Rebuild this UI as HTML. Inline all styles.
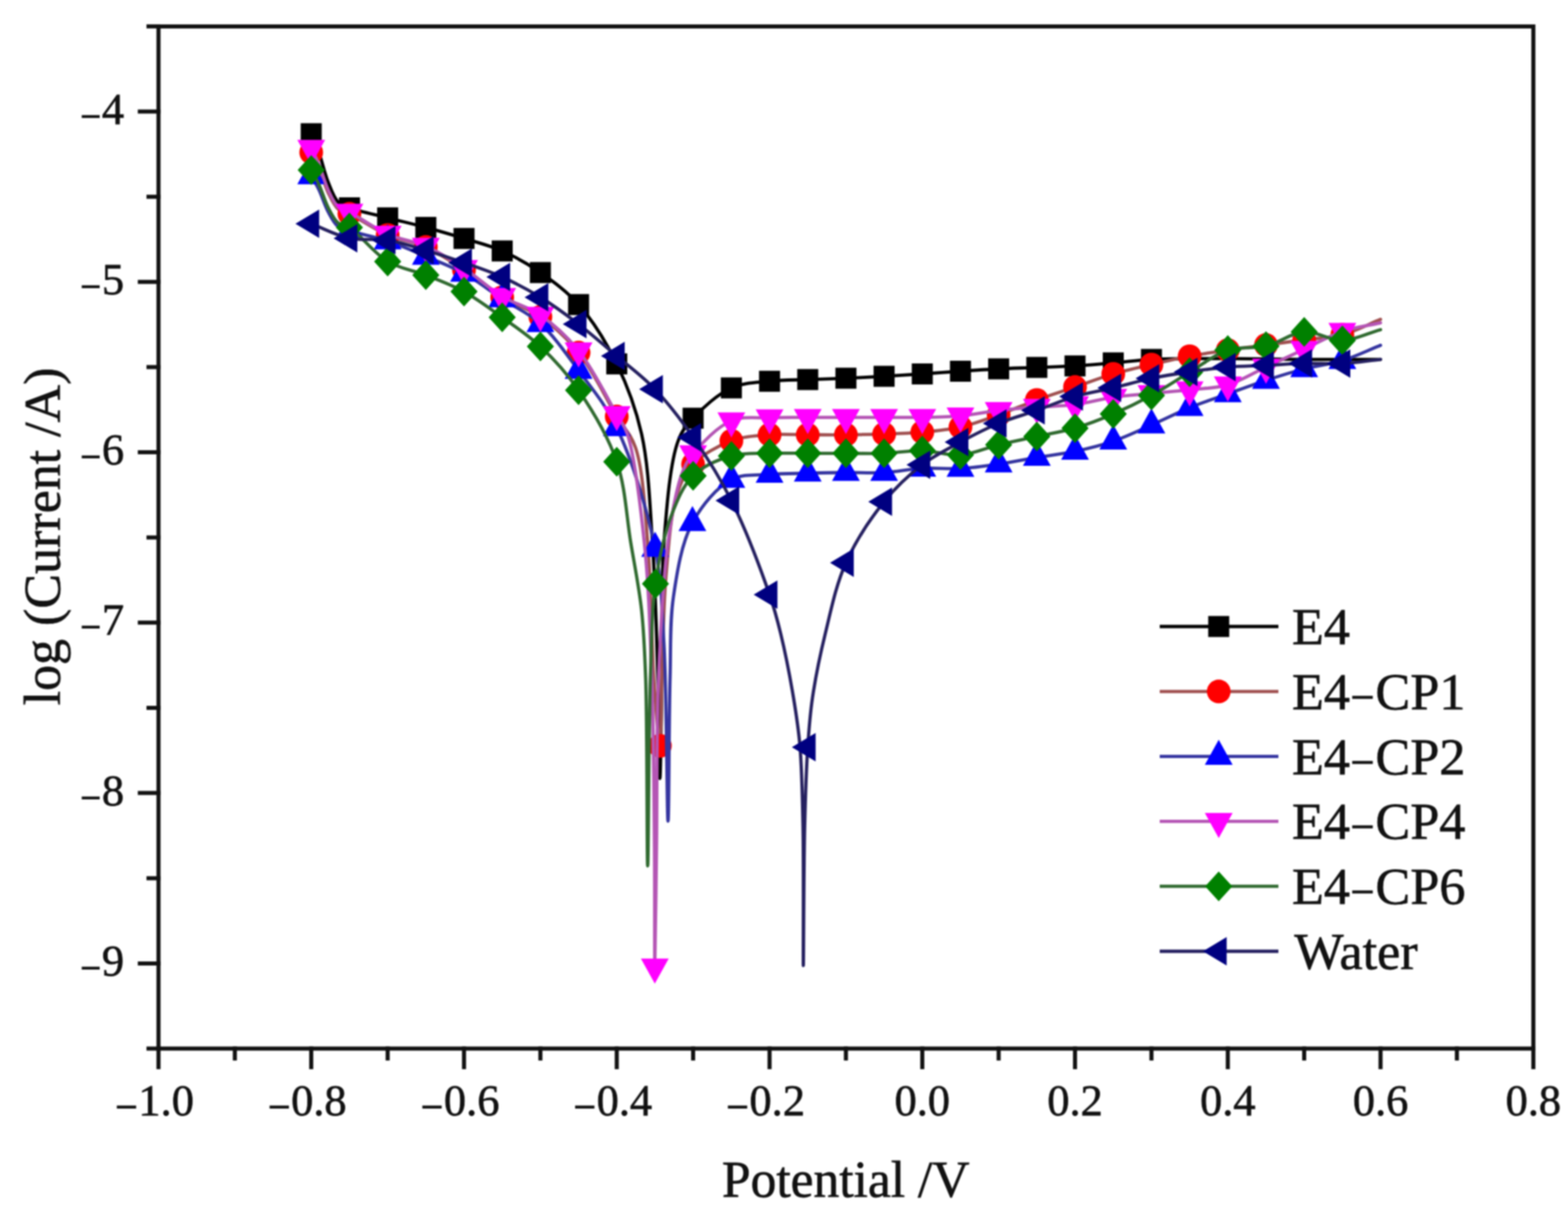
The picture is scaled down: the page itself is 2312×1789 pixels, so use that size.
<!DOCTYPE html>
<html><head><meta charset="utf-8"><title>Polarization curves</title>
<style>
html,body{margin:0;padding:0;background:#fff;width:2312px;height:1789px;overflow:hidden}
svg{display:block;filter:blur(0.8px)}
text{font-family:"Liberation Serif","Times New Roman",serif;fill:#111;stroke:#111;stroke-width:0.9px}
</style></head><body>
<svg width="2312" height="1789" viewBox="0 0 2312 1789">
<rect width="2312" height="1789" fill="#fff"/>
<g fill="none" stroke="#000" stroke-width="4.8" stroke-linejoin="round" stroke-linecap="round"><path d="M458.9 197.2C462.7 206.3 466.5 214.3 470.2 224.5C474.8 237.3 478.5 255.3 483.7 268.2C488.1 279.2 492 291.3 498.4 297.8C503.2 302.6 507.8 303.6 515.2 306.5C528.3 311.5 552.8 316.5 571.6 321.3C590.3 326.1 609.1 330.3 627.9 335.4C646.7 340.5 665.5 346 684.2 351.7C703 357.5 722.1 362 740.5 370.1C759.7 378.5 778.6 389.3 796.8 402C816.2 415.5 835.7 429.5 853.1 449.2C873.8 472.7 894.1 505.3 909.4 536.7C925.2 568.8 937.3 601.2 946 640C956.5 687 958.1 743.6 962 800C966.4 862.9 968.1 938.3 970 1000C971.6 1053 972 1148 973 1148C974 1148 975.1 1053 976 1000C977.1 938.3 974.2 861.7 979 800C983.1 746.3 988.2 681.2 1000 650C1006.1 634 1011.9 627.9 1022 616.8C1035.7 601.9 1058.4 581.1 1078.4 572.1C1096.2 564.1 1115.8 564.3 1134.7 562.3C1153.4 560.3 1172.2 560.5 1191 559.8C1209.7 559 1228.5 558.6 1247.3 557.8C1266.1 557 1284.8 556.1 1303.6 555C1322.4 554 1341.1 552.7 1359.9 551.5C1378.7 550.2 1397.4 548.7 1416.2 547.5C1435 546.2 1453.7 544.9 1472.5 544C1491.3 543 1510.1 542.7 1528.8 541.9C1547.6 541.2 1566.4 540.8 1585.1 539.7C1603.9 538.6 1622.7 536.7 1641.5 535.2C1660.2 533.6 1679 531.2 1697.8 530.1C1716.5 529.1 1735.3 529.1 1754.1 528.9C1772.8 528.7 1791.6 528.8 1810.4 528.9C1829.2 529 1847.9 529.2 1866.7 529.4C1885.5 529.6 1904.2 530 1923 530.1C1941.8 530.3 1960.5 530.1 1979.3 530.1C1998.1 530.1 2016.9 530.1 2035.6 530.1"/></g>
<g fill="#000"><rect x="443.4" y="181.7" width="31" height="31"/><rect x="499.8" y="291" width="31" height="31"/><rect x="556.1" y="305.8" width="31" height="31"/><rect x="612.4" y="319.9" width="31" height="31"/><rect x="668.7" y="336.2" width="31" height="31"/><rect x="725" y="354.6" width="31" height="31"/><rect x="781.3" y="386.5" width="31" height="31"/><rect x="837.6" y="433.7" width="31" height="31"/><rect x="893.9" y="521.2" width="31" height="31"/><rect x="1006.5" y="601.3" width="31" height="31"/><rect x="1062.9" y="556.6" width="31" height="31"/><rect x="1119.2" y="546.8" width="31" height="31"/><rect x="1175.5" y="544.3" width="31" height="31"/><rect x="1231.8" y="542.3" width="31" height="31"/><rect x="1288.1" y="539.5" width="31" height="31"/><rect x="1344.4" y="536" width="31" height="31"/><rect x="1400.7" y="532" width="31" height="31"/><rect x="1457" y="528.5" width="31" height="31"/><rect x="1513.3" y="526.4" width="31" height="31"/><rect x="1569.6" y="524.2" width="31" height="31"/><rect x="1626" y="519.7" width="31" height="31"/><rect x="1682.3" y="514.6" width="31" height="31"/></g>
<g fill="none" stroke="#a05050" stroke-width="4.8" stroke-linejoin="round" stroke-linecap="round"><path d="M458.9 224.8C462.7 232.4 466.5 238.9 470.2 247.5C474.8 258 478.6 273 483.7 283.6C488.1 292.8 492.3 302.8 498.4 308.1C503.2 312.3 508.1 311.8 515.2 315.3C528.7 321.9 552.4 338.5 571.6 346.7C589.9 354.6 609.6 356.1 627.9 364.3C647.2 373 665.6 386 684.2 398.2C703.2 410.7 721.3 426.7 740.5 438.4C758.9 449.6 778.9 454.7 796.8 467.3C816.6 481.3 835.7 498.5 853.1 520.1C873.8 545.8 893.9 588.5 909.4 614.3C920.2 632.3 929.9 639.6 937 660C948.5 693.1 951.2 757.2 955 800C958.2 836.1 958.5 866.7 960 900C961.5 933.3 961.8 966.7 964 1000C966.2 1033.4 971 1100.1 973 1100C975 1099.9 974.7 1036.7 976 1000C977.6 955 977.9 897.1 982 850C985.7 807.7 988.4 759.8 998 730C1004.2 710.6 1010 697.4 1022 684.7C1035.7 670.2 1058.8 657.4 1078.4 650.2C1096.5 643.5 1115.8 642.7 1134.7 641.2C1153.4 639.7 1172.2 641.2 1191 641.2C1209.7 641.2 1228.5 641.4 1247.3 641.2C1266.1 641 1284.8 640.8 1303.6 640.2C1322.4 639.6 1341.2 639.1 1359.9 637.4C1378.7 635.7 1397.6 634.1 1416.2 629.9C1435.2 625.6 1453.8 618.4 1472.5 611.8C1491.4 605.1 1510 596.8 1528.8 589.9C1547.5 583.1 1566.4 577.2 1585.1 570.8C1603.9 564.4 1622.6 557 1641.5 551.5C1660.1 546 1679 542 1697.8 537.7C1716.5 533.3 1735.2 528.9 1754.1 525.4C1772.8 521.8 1791.6 519.1 1810.4 516.3C1829.1 513.6 1847.9 511.3 1866.7 508.8C1885.5 506.3 1904.2 503.7 1923 501.2C1941.8 498.7 1960.8 498.6 1979.3 493.7C1998.4 488.7 2016.8 478.6 2035.6 471.1"/></g>
<g fill="#ff0000"><circle cx="458.9" cy="224.8" r="17.5"/><circle cx="515.2" cy="315.3" r="17.5"/><circle cx="571.6" cy="346.7" r="17.5"/><circle cx="627.9" cy="364.3" r="17.5"/><circle cx="684.2" cy="398.2" r="17.5"/><circle cx="740.5" cy="438.4" r="17.5"/><circle cx="796.8" cy="467.3" r="17.5"/><circle cx="853.1" cy="520.1" r="17.5"/><circle cx="909.4" cy="614.3" r="17.5"/><circle cx="1022" cy="684.7" r="17.5"/><circle cx="1078.4" cy="650.2" r="17.5"/><circle cx="1134.7" cy="641.2" r="17.5"/><circle cx="1191" cy="641.2" r="17.5"/><circle cx="1247.3" cy="641.2" r="17.5"/><circle cx="1303.6" cy="640.2" r="17.5"/><circle cx="1359.9" cy="637.4" r="17.5"/><circle cx="1416.2" cy="629.9" r="17.5"/><circle cx="1472.5" cy="611.8" r="17.5"/><circle cx="1528.8" cy="589.9" r="17.5"/><circle cx="1585.1" cy="570.8" r="17.5"/><circle cx="1641.5" cy="551.5" r="17.5"/><circle cx="1697.8" cy="537.7" r="17.5"/><circle cx="1754.1" cy="525.4" r="17.5"/><circle cx="1810.4" cy="516.3" r="17.5"/><circle cx="1866.7" cy="508.8" r="17.5"/><circle cx="1923" cy="501.2" r="17.5"/><circle cx="1979.3" cy="493.7" r="17.5"/><circle cx="973" cy="1100" r="17.5"/></g>
<g fill="none" stroke="#3535a0" stroke-width="4.8" stroke-linejoin="round" stroke-linecap="round"><path d="M458.9 259.5C462.7 266.3 466.5 272.1 470.2 279.7C474.8 289.2 478.6 302.6 483.7 312.1C488.1 320.3 492.4 329.2 498.4 334C503.3 337.9 507.9 338 515.2 340.4C528.5 344.7 553 349.3 571.6 355.5C590.5 361.8 609.2 370.2 627.9 378.1C646.7 386.1 665.8 393.1 684.2 403.2C703.4 413.9 721.7 428.5 740.5 440.9C759.2 453.3 779.2 461.6 796.8 477.4C817.1 495.6 834.9 521.8 853.1 546.5C872.5 572.8 892.7 596.1 909.4 630.9C932.1 678.1 954.6 752.5 966 809C976 858.2 975.9 895.8 979 950C983.2 1023.7 983.5 1211 985 1211C986.4 1211 986.3 1060.5 988 1000C989.3 954.4 987.3 918.7 993 880C998.5 842.5 1005 800.9 1021 771C1035 744.9 1057.1 718.5 1078.4 707.3C1095.7 698.1 1115.9 701.3 1134.7 699.7C1153.4 698.2 1172.2 698.4 1191 698C1209.7 697.5 1228.5 697.1 1247.3 697C1266 696.8 1284.8 698 1303.6 697C1322.4 695.9 1341.1 691.7 1359.9 690.7C1378.6 689.7 1397.5 692 1416.2 690.9C1435 689.9 1453.8 687.1 1472.5 684.4C1491.3 681.7 1510 677.8 1528.8 674.6C1547.6 671.5 1566.5 669.5 1585.1 665.6C1604 661.6 1622.9 657.1 1641.5 650.7C1660.5 644.2 1679 635.1 1697.8 626.9C1716.6 618.6 1735.1 609 1754.1 601.2C1772.7 593.7 1791.6 587.6 1810.4 580.9C1829.1 574.2 1847.9 567.2 1866.7 561C1885.4 554.9 1904.1 548.8 1923 544C1941.7 539.1 1960.8 537.6 1979.3 531.9C1998.3 526.1 2016.8 516.8 2035.6 509.3"/></g>
<g fill="#0000ff"><path d="M458.9 234.8L479.4 271.8L438.4 271.8Z"/><path d="M515.2 315.8L535.8 352.8L494.8 352.8Z"/><path d="M571.6 330.8L592.1 367.8L551.1 367.8Z"/><path d="M627.9 353.4L648.4 390.4L607.4 390.4Z"/><path d="M684.2 378.6L704.7 415.6L663.7 415.6Z"/><path d="M740.5 416.3L761 453.3L720 453.3Z"/><path d="M796.8 452.7L817.3 489.7L776.3 489.7Z"/><path d="M853.1 521.8L873.6 558.8L832.6 558.8Z"/><path d="M909.4 606.2L929.9 643.2L888.9 643.2Z"/><path d="M1078.4 682.6L1098.9 719.6L1057.9 719.6Z"/><path d="M1134.7 675.1L1155.2 712.1L1114.2 712.1Z"/><path d="M1191 673.3L1211.5 710.3L1170.5 710.3Z"/><path d="M1247.3 672.3L1267.8 709.3L1226.8 709.3Z"/><path d="M1303.6 672.3L1324.1 709.3L1283.1 709.3Z"/><path d="M1359.9 666L1380.4 703L1339.4 703Z"/><path d="M1416.2 666.3L1436.7 703.3L1395.7 703.3Z"/><path d="M1472.5 659.7L1493 696.7L1452 696.7Z"/><path d="M1528.8 649.9L1549.3 686.9L1508.3 686.9Z"/><path d="M1585.1 640.9L1605.6 677.9L1564.6 677.9Z"/><path d="M1641.5 626.1L1662 663.1L1621 663.1Z"/><path d="M1697.8 602.2L1718.3 639.2L1677.3 639.2Z"/><path d="M1754.1 576.6L1774.6 613.6L1733.6 613.6Z"/><path d="M1810.4 556.2L1830.9 593.2L1789.9 593.2Z"/><path d="M1866.7 536.4L1887.2 573.4L1846.2 573.4Z"/><path d="M1923 519.3L1943.5 556.3L1902.5 556.3Z"/><path d="M1979.3 507.2L1999.8 544.2L1958.8 544.2Z"/><path d="M966 784.3L986.5 821.3L945.5 821.3Z"/><path d="M1021 746.3L1041.5 783.3L1000.5 783.3Z"/></g>
<g fill="none" stroke="#b455b4" stroke-width="4.8" stroke-linejoin="round" stroke-linecap="round"><path d="M458.9 218.6C462.7 226.4 466.5 233.2 470.2 242.1C474.8 253.1 478.6 268.7 483.7 279.8C488.1 289.3 492.2 299.7 498.4 305.2C503.2 309.6 508.1 309.1 515.2 312.8C528.7 319.6 552.3 337 571.6 345.4C589.9 353.5 609.5 355 627.9 363C647.1 371.5 665.7 383.6 684.2 395.7C703.3 408.2 721.2 425.4 740.5 437.2C758.8 448.3 778.9 452.5 796.8 464.8C816.6 478.5 835.7 495.8 853.1 517.3C873.8 543 896.6 588.9 909.4 611.3C916.4 623.5 920.3 626 925 640C935.6 671.2 944.1 743.5 950 800C956.6 862.8 958.5 929.6 961 1000C963.8 1078.7 964.3 1174 965 1250C965.6 1313.8 965 1426 965.5 1426C966 1426 967.2 1313.8 968 1250C969 1174 967.8 1078.6 971 1000C973.9 929.6 977.6 855 985 800C990.3 760.7 996.5 723.4 1005 700C1010 686.2 1013.4 679.7 1022 669.1C1034.6 653.6 1058.1 629 1078.4 620.6C1096 613.2 1115.9 616.9 1134.7 616.1C1153.4 615.2 1172.2 615.6 1191 615.6C1209.7 615.5 1228.5 615.6 1247.3 615.6C1266.1 615.6 1284.8 615.6 1303.6 615.6C1322.4 615.6 1341.1 615.9 1359.9 615.6C1378.7 615.2 1397.5 615 1416.2 613.3C1435 611.6 1453.7 607.4 1472.5 605.3C1491.3 603.1 1510.1 601.9 1528.8 600.5C1547.6 599.1 1566.4 599.1 1585.1 596.7C1604 594.3 1622.6 588.6 1641.5 585.9C1660.2 583.2 1679 582.2 1697.8 580.4C1716.5 578.5 1735.3 577 1754.1 574.9C1772.9 572.7 1792 572.9 1810.4 567.6C1829.6 562 1847.9 550.2 1866.7 541.4C1885.5 532.7 1904.2 523.9 1923 515.1C1941.8 506.3 1960.2 495.2 1979.3 488.7C1997.7 482.4 2016.8 480.3 2035.6 476.1"/></g>
<g fill="#ff00ff"><path d="M438.4 206.2L479.4 206.2L458.9 243.2Z"/><path d="M494.8 300.5L535.8 300.5L515.2 337.5Z"/><path d="M551.1 333.1L592.1 333.1L571.6 370.1Z"/><path d="M607.4 350.7L648.4 350.7L627.9 387.7Z"/><path d="M663.7 383.4L704.7 383.4L684.2 420.4Z"/><path d="M720 424.8L761 424.8L740.5 461.8Z"/><path d="M776.3 452.5L817.3 452.5L796.8 489.5Z"/><path d="M832.6 505L873.6 505L853.1 542Z"/><path d="M888.9 599L929.9 599L909.4 636Z"/><path d="M1001.5 656.8L1042.5 656.8L1022 693.8Z"/><path d="M1057.9 608.3L1098.9 608.3L1078.4 645.3Z"/><path d="M1114.2 603.7L1155.2 603.7L1134.7 640.7Z"/><path d="M1170.5 603.2L1211.5 603.2L1191 640.2Z"/><path d="M1226.8 603.2L1267.8 603.2L1247.3 640.2Z"/><path d="M1283.1 603.2L1324.1 603.2L1303.6 640.2Z"/><path d="M1339.4 603.2L1380.4 603.2L1359.9 640.2Z"/><path d="M1395.7 601L1436.7 601L1416.2 638Z"/><path d="M1452 592.9L1493 592.9L1472.5 629.9Z"/><path d="M1508.3 588.2L1549.3 588.2L1528.8 625.2Z"/><path d="M1564.6 584.4L1605.6 584.4L1585.1 621.4Z"/><path d="M1621 573.6L1662 573.6L1641.5 610.6Z"/><path d="M1677.3 568.1L1718.3 568.1L1697.8 605.1Z"/><path d="M1733.6 562.5L1774.6 562.5L1754.1 599.5Z"/><path d="M1789.9 555.2L1830.9 555.2L1810.4 592.2Z"/><path d="M1846.2 529.1L1887.2 529.1L1866.7 566.1Z"/><path d="M1902.5 502.7L1943.5 502.7L1923 539.7Z"/><path d="M1958.8 476.3L1999.8 476.3L1979.3 513.3Z"/><path d="M945 1413.7L986 1413.7L965.5 1450.7Z"/></g>
<g fill="none" stroke="#306a30" stroke-width="4.8" stroke-linejoin="round" stroke-linecap="round"><path d="M458.9 250.7C462.7 257.8 466.5 263.9 470.2 271.9C474.8 281.8 478.6 295.8 483.7 305.8C488.1 314.4 492.4 323.7 498.4 328.6C503.3 332.7 508.4 331.2 515.2 335.4C529.1 344 551.6 373.8 571.6 385.7C589.4 396.2 609.2 398.4 627.9 405.8C646.8 413.2 665.9 420.1 684.2 430.1C703.4 440.7 721.9 454.7 740.5 468.1C759.5 481.7 778.8 494.2 796.8 511C816.6 529.5 835.7 550.3 853.1 575.6C873.7 605.5 896.6 643.6 909.4 680.9C922.3 718.4 923.7 762 930 800C935.8 834.8 942.3 866.6 946 900C949.6 933.2 950.5 958.3 952 1000C954.5 1069.3 953.8 1277 955 1277C956.2 1277 956.4 1076.6 959 1000C960.9 945.7 960.5 903.4 966.5 861C971.7 824.4 979.1 788.4 990 760C998.7 737.2 1007.1 716.4 1022 701.8C1036.7 687.4 1059 677.8 1078.4 672.4C1096.6 667.2 1115.9 669.2 1134.7 668.6C1153.4 668 1172.2 668.6 1191 668.6C1209.7 668.6 1228.5 668.6 1247.3 668.6C1266.1 668.6 1284.8 669.3 1303.6 668.6C1322.4 667.9 1341.1 664.1 1359.9 664.6C1378.7 665 1397.6 672.5 1416.2 671.1C1435.1 669.7 1453.7 660.6 1472.5 656C1491.2 651.5 1510.1 647.8 1528.8 643.7C1547.6 639.6 1566.6 636.8 1585.1 631.4C1604.1 625.8 1622.9 618.5 1641.5 610.5C1660.4 602.4 1679.2 593.3 1697.8 583.2C1716.8 572.8 1735.2 560.1 1754.1 549C1772.8 537.9 1790.9 522.6 1810.4 516.3C1828.5 510.4 1848.2 514.9 1866.7 510.5C1885.8 506.1 1904 490.7 1923 489.4C1941.6 488.1 1960.6 502.5 1979.3 502C1998.1 501.5 2016.8 491.4 2035.6 486.2"/></g>
<g fill="#008000"><path d="M458.9 228.7L478.9 250.7L458.9 272.7L438.9 250.7Z"/><path d="M515.2 313.4L535.2 335.4L515.2 357.4L495.2 335.4Z"/><path d="M571.6 363.7L591.6 385.7L571.6 407.7L551.6 385.7Z"/><path d="M627.9 383.8L647.9 405.8L627.9 427.8L607.9 405.8Z"/><path d="M684.2 408.1L704.2 430.1L684.2 452.1L664.2 430.1Z"/><path d="M740.5 446.1L760.5 468.1L740.5 490.1L720.5 468.1Z"/><path d="M796.8 489L816.8 511L796.8 533L776.8 511Z"/><path d="M853.1 553.6L873.1 575.6L853.1 597.6L833.1 575.6Z"/><path d="M909.4 658.9L929.4 680.9L909.4 702.9L889.4 680.9Z"/><path d="M1022 679.8L1042 701.8L1022 723.8L1002 701.8Z"/><path d="M1078.4 650.4L1098.4 672.4L1078.4 694.4L1058.4 672.4Z"/><path d="M1134.7 646.6L1154.7 668.6L1134.7 690.6L1114.7 668.6Z"/><path d="M1191 646.6L1211 668.6L1191 690.6L1171 668.6Z"/><path d="M1247.3 646.6L1267.3 668.6L1247.3 690.6L1227.3 668.6Z"/><path d="M1303.6 646.6L1323.6 668.6L1303.6 690.6L1283.6 668.6Z"/><path d="M1359.9 642.6L1379.9 664.6L1359.9 686.6L1339.9 664.6Z"/><path d="M1416.2 649.1L1436.2 671.1L1416.2 693.1L1396.2 671.1Z"/><path d="M1472.5 634L1492.5 656L1472.5 678L1452.5 656Z"/><path d="M1528.8 621.7L1548.8 643.7L1528.8 665.7L1508.8 643.7Z"/><path d="M1585.1 609.4L1605.1 631.4L1585.1 653.4L1565.1 631.4Z"/><path d="M1641.5 588.5L1661.5 610.5L1641.5 632.5L1621.5 610.5Z"/><path d="M1697.8 561.2L1717.8 583.2L1697.8 605.2L1677.8 583.2Z"/><path d="M1754.1 527L1774.1 549L1754.1 571L1734.1 549Z"/><path d="M1810.4 494.3L1830.4 516.3L1810.4 538.3L1790.4 516.3Z"/><path d="M1866.7 488.5L1886.7 510.5L1866.7 532.5L1846.7 510.5Z"/><path d="M1923 467.4L1943 489.4L1923 511.4L1903 489.4Z"/><path d="M1979.3 480L1999.3 502L1979.3 524L1959.3 502Z"/><path d="M966.5 839L986.5 861L966.5 883L946.5 861Z"/></g>
<g fill="none" stroke="#252060" stroke-width="4.8" stroke-linejoin="round" stroke-linecap="round"><path d="M458.9 330.1C477.7 337.2 496.2 347.5 515.2 351.5C533.7 355.3 552.9 351.3 571.6 354.2C590.5 357.2 609.2 363.8 627.9 369.3C646.7 374.9 665.5 380.9 684.2 387.4C703 394 722 400.2 740.5 408.5C759.5 417.1 778.4 427.1 796.8 438.4C815.9 450.2 834.6 463.9 853.1 478.1C872.2 492.8 890.7 509.2 909.4 525.1C928.3 541.2 947.8 555.3 965.7 574.1C985.5 594.8 1004.1 619.1 1022 645C1041.8 673.3 1060.9 703.2 1078.4 738.2C1098.9 779.2 1122.1 840.7 1134.7 877.1C1142.6 900 1145.8 912.5 1151 934C1157.7 961.5 1165.1 999.6 1170 1029C1174.2 1054.3 1177.2 1073.3 1179.5 1100C1182.4 1134.3 1183.1 1173.2 1184 1218C1185.2 1277.2 1184.1 1424 1184.5 1424C1184.9 1424 1185.1 1276.9 1186.5 1218C1187.6 1173.8 1188.7 1136.2 1191 1102C1192.8 1074.9 1194.2 1054.8 1198 1029C1202.4 999.3 1209.1 966.2 1217 934C1225.3 899.9 1232.7 862.4 1247.3 829.9C1261.7 797.8 1283.2 765.2 1303.6 739.9C1321.1 718.3 1340.2 700.5 1359.9 685.4C1377.9 671.7 1397.2 662.3 1416.2 652C1434.8 641.9 1453.5 632.2 1472.5 624.4C1491 616.7 1510.1 611.9 1528.8 605.3C1547.6 598.6 1566.2 590.2 1585.1 584.7C1603.7 579.2 1622.7 576.5 1641.5 572.1C1660.2 567.6 1678.9 562 1697.8 558C1716.5 554.1 1735.3 551.2 1754.1 548.5C1772.8 545.7 1791.6 543 1810.4 541.4C1829.1 539.9 1847.9 539.8 1866.7 538.9C1885.5 538 1904.2 536.4 1923 535.9C1941.8 535.5 1960.6 537.1 1979.3 536.2C1998.1 535.2 2016.9 532.1 2035.6 530.1"/></g>
<g fill="#000080"><path d="M435.6 330.1L470.6 309.1L470.6 351.1Z"/><path d="M491.9 351.5L526.9 330.5L526.9 372.5Z"/><path d="M548.2 354.2L583.2 333.2L583.2 375.2Z"/><path d="M604.5 369.3L639.5 348.3L639.5 390.3Z"/><path d="M660.8 387.4L695.8 366.4L695.8 408.4Z"/><path d="M717.2 408.5L752.2 387.5L752.2 429.5Z"/><path d="M773.5 438.4L808.5 417.4L808.5 459.4Z"/><path d="M829.8 478.1L864.8 457.1L864.8 499.1Z"/><path d="M886.1 525.1L921.1 504.1L921.1 546.1Z"/><path d="M942.4 574.1L977.4 553.1L977.4 595.1Z"/><path d="M998.7 645L1033.7 624L1033.7 666Z"/><path d="M1055 738.2L1090 717.2L1090 759.2Z"/><path d="M1111.3 877.1L1146.3 856.1L1146.3 898.1Z"/><path d="M1167.6 1102L1202.6 1081L1202.6 1123Z"/><path d="M1223.9 829.9L1258.9 808.9L1258.9 850.9Z"/><path d="M1280.3 739.9L1315.3 718.9L1315.3 760.9Z"/><path d="M1336.6 685.4L1371.6 664.4L1371.6 706.4Z"/><path d="M1392.9 652L1427.9 631L1427.9 673Z"/><path d="M1449.2 624.4L1484.2 603.4L1484.2 645.4Z"/><path d="M1505.5 605.3L1540.5 584.3L1540.5 626.3Z"/><path d="M1561.8 584.7L1596.8 563.7L1596.8 605.7Z"/><path d="M1618.1 572.1L1653.1 551.1L1653.1 593.1Z"/><path d="M1674.4 558L1709.4 537L1709.4 579Z"/><path d="M1730.7 548.5L1765.7 527.5L1765.7 569.5Z"/><path d="M1787 541.4L1822 520.4L1822 562.4Z"/><path d="M1843.4 538.9L1878.4 517.9L1878.4 559.9Z"/><path d="M1899.7 535.9L1934.7 514.9L1934.7 556.9Z"/><path d="M1956 536.2L1991 515.2L1991 557.2Z"/></g>
<g stroke="#111" stroke-width="6" fill="none" stroke-linecap="square">
<path d="M233.7 38.9H2260.9V1546.4H233.7Z"/>
<path d="M219 38.9H233.7"/><path d="M206.2 164.5H233.7"/><path d="M219 290.2H233.7"/><path d="M206.2 415.8H233.7"/><path d="M219 541.4H233.7"/><path d="M206.2 667.1H233.7"/><path d="M219 792.7H233.7"/><path d="M206.2 918.3H233.7"/><path d="M219 1044H233.7"/><path d="M206.2 1169.6H233.7"/><path d="M219 1295.3H233.7"/><path d="M206.2 1420.9H233.7"/><path d="M219 1546.5H233.7"/><path d="M233.7 1546.4V1573.9"/><path d="M346.3 1546.4V1561.1"/><path d="M458.9 1546.4V1573.9"/><path d="M571.6 1546.4V1561.1"/><path d="M684.2 1546.4V1573.9"/><path d="M796.8 1546.4V1561.1"/><path d="M909.4 1546.4V1573.9"/><path d="M1022 1546.4V1561.1"/><path d="M1134.7 1546.4V1573.9"/><path d="M1247.3 1546.4V1561.1"/><path d="M1359.9 1546.4V1573.9"/><path d="M1472.5 1546.4V1561.1"/><path d="M1585.1 1546.4V1573.9"/><path d="M1697.8 1546.4V1561.1"/><path d="M1810.4 1546.4V1573.9"/><path d="M1923 1546.4V1561.1"/><path d="M2035.6 1546.4V1573.9"/><path d="M2148.2 1546.4V1561.1"/><path d="M2260.9 1546.4V1573.9"/>
</g>
<g font-size="65.5">
<text x="183" y="182.5" text-anchor="end"><tspan font-size="48" stroke="#111" stroke-width="1.8">–</tspan><tspan dx="4.5">4</tspan></text>
<text x="183" y="433.8" text-anchor="end"><tspan font-size="48" stroke="#111" stroke-width="1.8">–</tspan><tspan dx="4.5">5</tspan></text>
<text x="183" y="685.1" text-anchor="end"><tspan font-size="48" stroke="#111" stroke-width="1.8">–</tspan><tspan dx="4.5">6</tspan></text>
<text x="183" y="936.3" text-anchor="end"><tspan font-size="48" stroke="#111" stroke-width="1.8">–</tspan><tspan dx="4.5">7</tspan></text>
<text x="183" y="1187.6" text-anchor="end"><tspan font-size="48" stroke="#111" stroke-width="1.8">–</tspan><tspan dx="4.5">8</tspan></text>
<text x="183" y="1438.9" text-anchor="end"><tspan font-size="48" stroke="#111" stroke-width="1.8">–</tspan><tspan dx="4.5">9</tspan></text>
<text x="229.7" y="1644.5" text-anchor="middle"><tspan font-size="52" stroke="#111" stroke-width="1.8">–</tspan><tspan dx="4.5">1.0</tspan></text>
<text x="454.9" y="1644.5" text-anchor="middle"><tspan font-size="52" stroke="#111" stroke-width="1.8">–</tspan><tspan dx="4.5">0.8</tspan></text>
<text x="680.2" y="1644.5" text-anchor="middle"><tspan font-size="52" stroke="#111" stroke-width="1.8">–</tspan><tspan dx="4.5">0.6</tspan></text>
<text x="905.4" y="1644.5" text-anchor="middle"><tspan font-size="52" stroke="#111" stroke-width="1.8">–</tspan><tspan dx="4.5">0.4</tspan></text>
<text x="1130.7" y="1644.5" text-anchor="middle"><tspan font-size="52" stroke="#111" stroke-width="1.8">–</tspan><tspan dx="4.5">0.2</tspan></text>
<text x="1359.9" y="1644.5" text-anchor="middle">0.0</text>
<text x="1585.1" y="1644.5" text-anchor="middle">0.2</text>
<text x="1810.4" y="1644.5" text-anchor="middle">0.4</text>
<text x="2035.6" y="1644.5" text-anchor="middle">0.6</text>
<text x="2260.9" y="1644.5" text-anchor="middle">0.8</text>
</g>
<text font-size="76" x="1247" y="1765" text-anchor="middle">Potential /V</text>
<text font-size="76.7" transform="translate(88 791.2) rotate(-90)" text-anchor="middle">log (Current /A)</text>
<path stroke="#000" stroke-width="4.8" d="M1710 924H1885"/><g fill="#000"><rect x="1781.5" y="908.5" width="31" height="31"/></g><text font-size="77" x="1905" y="950">E4</text>
<path stroke="#a05050" stroke-width="4.8" d="M1710 1019.8H1885"/><g fill="#ff0000"><circle cx="1797" cy="1019.8" r="17.5"/></g><text font-size="77" x="1905" y="1045.8">E4<tspan font-size="56" stroke="#111" stroke-width="1.6" dx="4.5" dy="-4">–</tspan><tspan dx="5" dy="4">CP1</tspan></text>
<path stroke="#3535a0" stroke-width="4.8" d="M1710 1115.6H1885"/><g fill="#0000ff"><path d="M1797 1090.9L1817.5 1127.9L1776.5 1127.9Z"/></g><text font-size="77" x="1905" y="1141.6">E4<tspan font-size="56" stroke="#111" stroke-width="1.6" dx="4.5" dy="-4">–</tspan><tspan dx="5" dy="4">CP2</tspan></text>
<path stroke="#b455b4" stroke-width="4.8" d="M1710 1211.4H1885"/><g fill="#ff00ff"><path d="M1776.5 1199.1L1817.5 1199.1L1797 1236.1Z"/></g><text font-size="77" x="1905" y="1237.4">E4<tspan font-size="56" stroke="#111" stroke-width="1.6" dx="4.5" dy="-4">–</tspan><tspan dx="5" dy="4">CP4</tspan></text>
<path stroke="#306a30" stroke-width="4.8" d="M1710 1307.2H1885"/><g fill="#008000"><path d="M1797 1285.2L1817 1307.2L1797 1329.2L1777 1307.2Z"/></g><text font-size="77" x="1905" y="1333.2">E4<tspan font-size="56" stroke="#111" stroke-width="1.6" dx="4.5" dy="-4">–</tspan><tspan dx="5" dy="4">CP6</tspan></text>
<path stroke="#252060" stroke-width="4.8" d="M1710 1403H1885"/><g fill="#000080"><path d="M1773.7 1403L1808.7 1382L1808.7 1424Z"/></g><text font-size="77" x="1908.5" y="1429">Water</text>
</svg>
</body></html>
